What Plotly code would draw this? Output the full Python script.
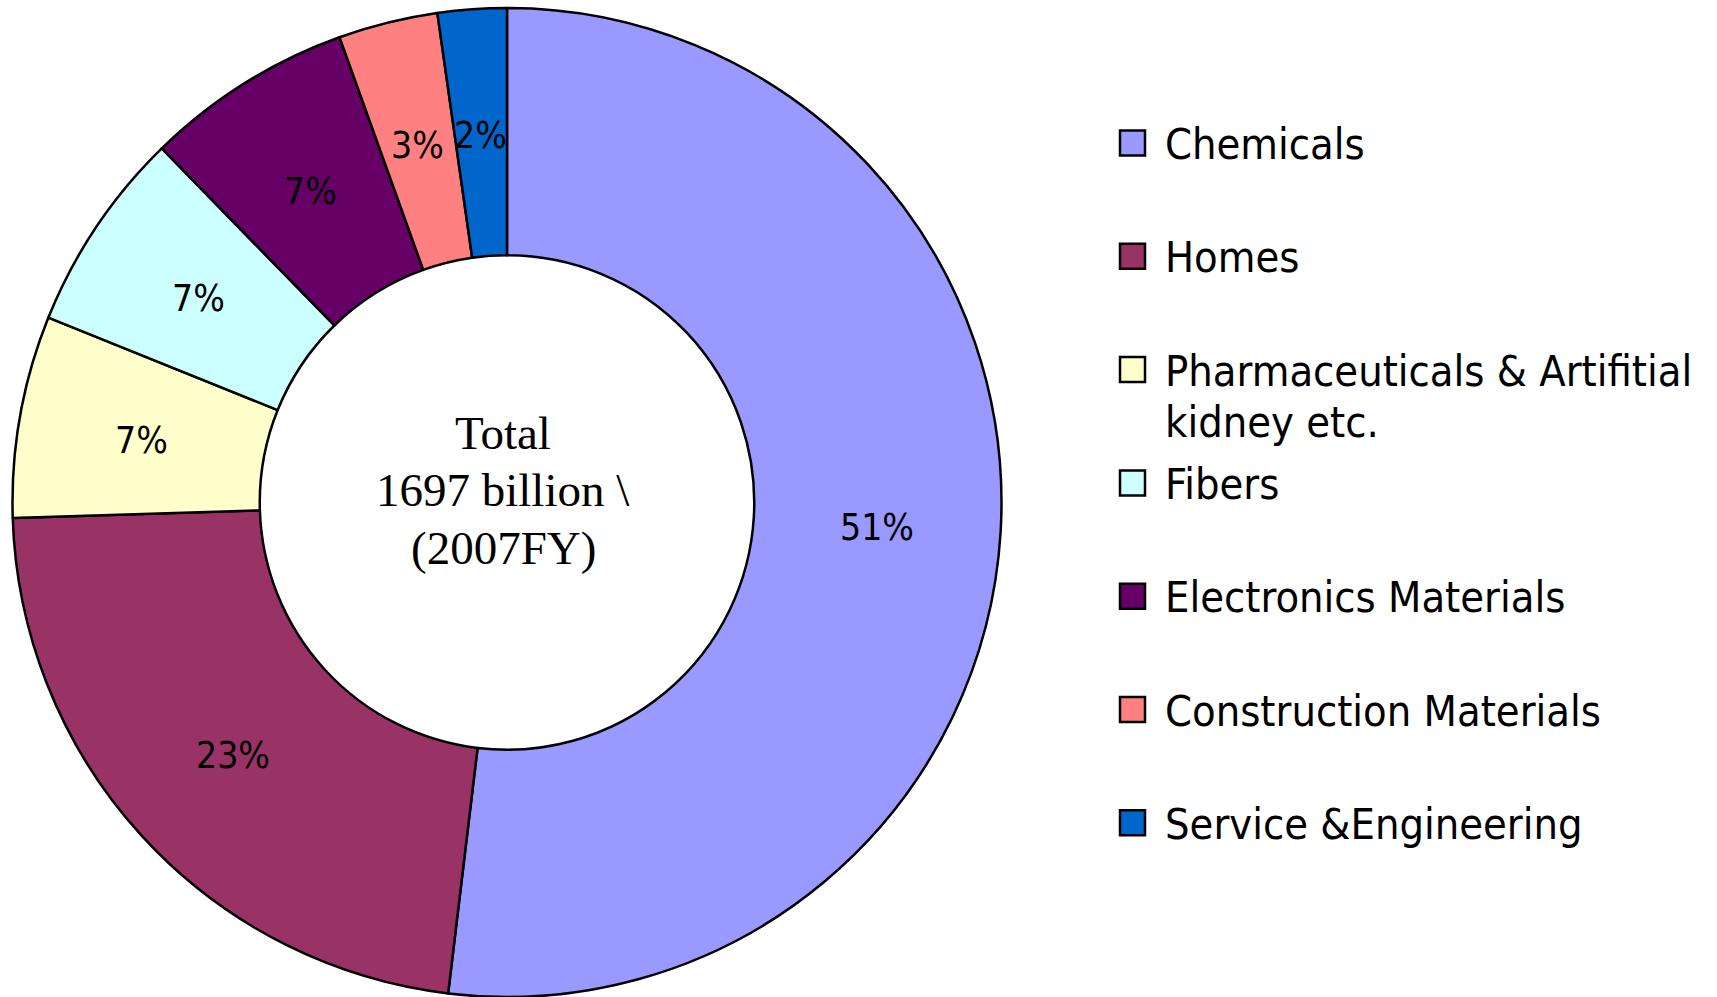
import math
import plotly.graph_objects as go

W, H = 1717, 997

categories = [
    "Chemicals",
    "Homes",
    "Pharmaceuticals & Artifitial<br>kidney etc.",
    "Fibers",
    "Electronics Materials",
    "Construction Materials",
    "Service &Engineering",
]
shares = [51.9, 22.6, 6.6, 6.6, 6.8, 3.25, 2.25]
share_labels = ["51%", "23%", "7%", "7%", "7%", "3%", "2%"]
colors = ["#9999FF", "#993366", "#FFFFCC", "#CCFFFF", "#660066", "#FF8080", "#0066CC"]
center_lines = ["Total", "1697 billion \\", "(2007FY)"]

# pie geometry (pixels)
cx, cy, R = 507.0, 502.5, 494.5
hole = 0.5

fig = go.Figure()
fig.add_trace(go.Pie(
    labels=categories,
    values=shares,
    textinfo="none",
    marker=dict(colors=colors, line=dict(color="black", width=2.5)),
    hole=hole,
    sort=False,
    direction="clockwise",
    rotation=0,
    showlegend=False,
    domain=dict(x=[(cx - R) / W, (cx + R) / W], y=[0, (2 * R) / H]),
))

annotations = []
center_first_y, center_step = 432.5, 57.5
for k, line in enumerate(center_lines):
    annotations.append(dict(
        text=line, x=503 / W, y=1 - (center_first_y + k * center_step) / H,
        xref="paper", yref="paper", showarrow=False,
        xanchor="center", yanchor="middle",
        font=dict(family="Liberation Serif, Times New Roman, serif", size=47, color="black"),
    ))

cond_font = "DejaVu Sans Condensed, Liberation Sans Narrow, Liberation Sans, sans-serif"

# percentage labels at mid-angle, mid-ring of each slice (derived from shares)
total = sum(shares)
cum = 0.0
r_mid = R * (1 + hole) / 2
for v, lab in zip(shares, share_labels):
    ang = 2 * math.pi * (cum + v / 2) / total
    cum += v
    px = cx + r_mid * math.sin(ang)
    py = cy - r_mid * math.cos(ang) + 3
    annotations.append(dict(
        text=lab, x=px / W, y=1 - py / H, xref="paper", yref="paper",
        showarrow=False, xanchor="center", yanchor="middle",
        font=dict(family=cond_font, size=37, color="black"),
    ))

shapes = []
legend_x0 = 1120
sq = 25
first_y = 143
step = 113.3
font_size = 43
line_step = 51
for i, (cat, col) in enumerate(zip(categories, colors)):
    yc = first_y + i * step
    shapes.append(dict(
        type="rect", xref="paper", yref="paper",
        x0=legend_x0 / W, x1=(legend_x0 + sq) / W,
        y0=1 - (yc - sq / 2) / H, y1=1 - (yc + sq / 2) / H,
        fillcolor=col, line=dict(color="black", width=2.5),
    ))
    for k, part in enumerate(cat.split("<br>")):
        annotations.append(dict(
            text=part, x=1163 / W, y=1 - (yc + 1 + k * line_step) / H,
            xref="paper", yref="paper", showarrow=False,
            xanchor="left", yanchor="middle",
            font=dict(family=cond_font, size=font_size, color="black"),
        ))

fig.update_layout(
    width=W, height=H,
    margin=dict(l=0, r=0, t=0, b=0),
    paper_bgcolor="white", plot_bgcolor="white",
    annotations=annotations, shapes=shapes,
)
fig.write_html("out.html")
